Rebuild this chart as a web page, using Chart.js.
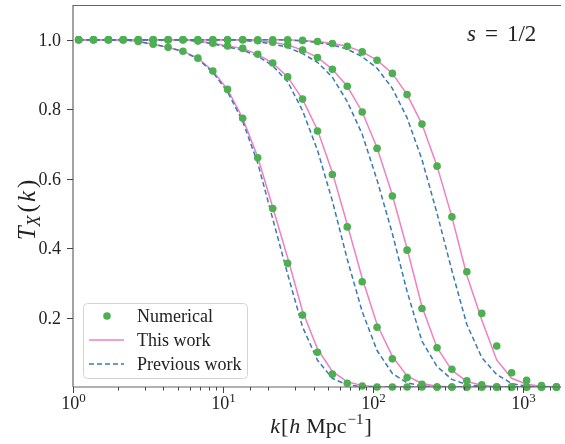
<!DOCTYPE html>
<html>
<head>
<meta charset="utf-8">
<script src="https://cdn.jsdelivr.net/npm/chart.js@4.4.1/dist/chart.umd.min.js"></script>
<style>
html, body { margin: 0; padding: 0; background: #fff; }
#wrap { width: 565px; height: 444px; }
</style>
</head>
<body>
<div id="wrap"><canvas id="chart"></canvas></div>
<script>
// k grid [h/Mpc], shared by the numerical points and both fits
const kValues = [1.09, 1.37, 1.72, 2.16, 2.72, 3.42, 4.30, 5.40, 6.79, 8.54, 10.7, 13.5, 17.0, 21.4, 26.9, 33.8,
  42.5, 53.4, 67.1, 84.4, 106, 134, 168, 211, 266, 334, 420, 528, 664, 835, 1050, 1320, 1660];

// Numerical transfer functions (green dots)
const numA = [1, 1, 1, 1, 0.995, 0.987, 0.978, 0.967, 0.947, 0.910, 0.857, 0.774, 0.660, 0.514, 0.356, 0.207, 0.100,
  0.037, 0.011, 0.003, 0, 0, 0, 0, 0, 0, 0, 0, 0, 0, 0, 0, 0];
const numB = [1, 1, 1, 1, 1, 1, 1, 1, 0.996, 0.990, 0.982, 0.975, 0.958, 0.933, 0.893, 0.829, 0.737, 0.612, 0.461,
  0.303, 0.172, 0.081, 0.027, 0.008, 0, 0, 0, 0, 0, 0, 0, 0, 0];
const numC = [1, 1, 1, 1, 1, 1, 1, 1, 1, 1, 1, 1, 0.997, 0.993, 0.985, 0.970, 0.949, 0.915, 0.866, 0.792, 0.687,
  0.550, 0.394, 0.226, 0.113, 0.051, 0.018, 0.006, 0, 0, 0, 0, 0];
const numD = [1, 1, 1, 1, 1, 1, 1, 1, 1, 1, 1, 1, 1, 1, 1, 0.998, 0.995, 0.989, 0.981, 0.965, 0.941, 0.903, 0.842,
  0.757, 0.636, 0.490, 0.332, 0.212, 0.118, 0.041, 0.019, 0.004, 0];

// This work (pink solid)
const thisA = [1, 1, 1, 1, 0.995, 0.987, 0.978, 0.967, 0.947, 0.910, 0.857, 0.774, 0.662, 0.517, 0.372, 0.218, 0.110,
  0.045, 0.015, 0.004, 0.001, 0, 0, 0, 0, 0, 0, 0, 0, 0, 0, 0, 0];
const thisB = [1, 1, 1, 1, 1, 1, 1, 1, 0.996, 0.990, 0.982, 0.975, 0.958, 0.933, 0.893, 0.829, 0.740, 0.618, 0.468,
  0.313, 0.180, 0.088, 0.032, 0.010, 0.002, 0, 0, 0, 0, 0, 0, 0, 0];
const thisC = [1, 1, 1, 1, 1, 1, 1, 1, 1, 1, 1, 1, 0.997, 0.993, 0.985, 0.970, 0.949, 0.915, 0.866, 0.792, 0.689,
  0.553, 0.398, 0.232, 0.113, 0.048, 0.016, 0.005, 0.001, 0, 0, 0, 0];
const thisD = [1, 1, 1, 1, 1, 1, 1, 1, 1, 1, 1, 1, 1, 1, 1, 0.998, 0.995, 0.989, 0.981, 0.965, 0.941, 0.903, 0.842,
  0.757, 0.636, 0.490, 0.322, 0.193, 0.078, 0.025, 0.008, 0.002, 0];

// Previous work (blue dashed)
const prevA = [1, 1, 1, 1, 0.995, 0.987, 0.978, 0.966, 0.945, 0.906, 0.850, 0.765, 0.645, 0.484, 0.325, 0.173, 0.077,
  0.025, 0.006, 0.001, 0, 0, 0, 0, 0, 0, 0, 0, 0, 0, 0, 0, 0];
const prevB = [1, 1, 1, 1, 1, 1, 1, 1, 0.995, 0.988, 0.979, 0.970, 0.953, 0.925, 0.879, 0.796, 0.682, 0.536, 0.368,
  0.217, 0.105, 0.039, 0.012, 0.003, 0, 0, 0, 0, 0, 0, 0, 0, 0];
const prevC = [1, 1, 1, 1, 1, 1, 1, 1, 1, 1, 1, 0.998, 0.994, 0.988, 0.978, 0.960, 0.935, 0.892, 0.822, 0.728, 0.596,
  0.442, 0.275, 0.132, 0.059, 0.022, 0.007, 0.002, 0, 0, 0, 0, 0];
const prevD = [1, 1, 1, 1, 1, 1, 1, 1, 1, 1, 1, 1, 1, 1, 0.999, 0.997, 0.992, 0.985, 0.973, 0.951, 0.918, 0.860,
  0.775, 0.655, 0.500, 0.335, 0.180, 0.085, 0.036, 0.010, 0.002, 0, 0];

const yTicks = [0.2, 0.4, 0.6, 0.8, 1.0];
const legendLabels = ['Numerical', 'This work', 'Previous work'];

const GREEN = '#4caf50';
const PINK = '#ee80c4';
const BLUE = '#3a7ab3';
const SPINE = '#666';
const SERIF = '"Liberation Serif", "DejaVu Serif", serif';

const toPoints = (vals) => vals.map((v, i) => ({ x: kValues[i], y: v }));

const datasets = [];
[thisA, thisB, thisC, thisD].forEach((s, i) => datasets.push({
  label: i === 0 ? legendLabels[1] : '', data: toPoints(s), borderColor: PINK, borderWidth: 1.5,
  pointRadius: 0, tension: 0, fill: false, order: 2
}));
[prevA, prevB, prevC, prevD].forEach((s, i) => datasets.push({
  label: i === 0 ? legendLabels[2] : '', data: toPoints(s), borderColor: BLUE, borderWidth: 1.5,
  borderDash: [5, 3], pointRadius: 0, tension: 0, fill: false, order: 1
}));
[numA, numB, numC, numD].forEach((s, i) => datasets.push({
  label: i === 0 ? legendLabels[0] : '', data: toPoints(s), showLine: false, pointRadius: 3.8,
  pointBackgroundColor: GREEN, pointBorderWidth: 0, clip: false, order: 0
}));

// draw a run of text pieces with mixed styles
function drawRun(ctx, parts, x, y) {
  let cx = x;
  parts.forEach(p => {
    ctx.font = p.font;
    ctx.fillText(p.t, cx, y + (p.dy || 0));
    cx += ctx.measureText(p.t).width + (p.gap || 0);
  });
  return cx - x;
}
function runWidth(ctx, parts) {
  let w = 0;
  parts.forEach(p => { ctx.font = p.font; w += ctx.measureText(p.t).width + (p.gap || 0); });
  return w;
}

const decor = {
  id: 'decor',
  afterDraw(chart) {
    const { ctx, chartArea: a, scales: { x, y } } = chart;
    ctx.save();
    ctx.strokeStyle = SPINE;
    ctx.lineWidth = 1.2;
    // spines
    ctx.beginPath();
    ctx.moveTo(a.left, a.top + 0.5); ctx.lineTo(a.right, a.top + 0.5);
    ctx.moveTo(a.left, a.top); ctx.lineTo(a.left, a.bottom);
    ctx.moveTo(a.left, a.bottom); ctx.lineTo(a.right, a.bottom);
    ctx.stroke();

    ctx.fillStyle = '#222';
    ctx.strokeStyle = '#444';
    ctx.lineWidth = 1;
    // x ticks (log, minor + major)
    x.ticks.forEach(t => {
      if (t.value >= x.max) return;
      const px = Math.round(x.getPixelForValue(t.value)) + 0.5;
      const lg = Math.log10(t.value);
      const major = Math.abs(lg - Math.round(lg)) < 1e-9;
      ctx.beginPath();
      ctx.moveTo(px, a.bottom); ctx.lineTo(px, a.bottom + (major ? 6 : 3.5));
      ctx.stroke();
      if (major) {
        const parts = [
          { t: '10', font: '18px ' + SERIF },
          { t: String(Math.round(lg)), font: '13px ' + SERIF, dy: -7 }
        ];
        ctx.textBaseline = 'alphabetic';
        ctx.textAlign = 'left';
        const w = runWidth(ctx, parts);
        drawRun(ctx, parts, px - w / 2, a.bottom + 22);
      }
    });
    // y ticks
    ctx.textAlign = 'right';
    ctx.textBaseline = 'middle';
    ctx.font = '18px ' + SERIF;
    yTicks.forEach(v => {
      const py = Math.round(y.getPixelForValue(v)) + 0.5;
      ctx.beginPath();
      ctx.moveTo(a.left - 6, py); ctx.lineTo(a.left, py);
      ctx.stroke();
      ctx.fillText(v.toFixed(1), a.left - 12, py + 1);
    });

    // axis titles
    ctx.textAlign = 'left';
    ctx.textBaseline = 'alphabetic';
    const xl = [
      { t: 'k', font: 'italic 22px ' + SERIF, gap: 1 },
      { t: '[', font: '22px ' + SERIF, gap: 1 },
      { t: 'h', font: 'italic 22px ' + SERIF, gap: 6 },
      { t: 'Mpc', font: '22px ' + SERIF, gap: 1 },
      { t: '\u22121', font: '15px ' + SERIF, dy: -9, gap: 1 },
      { t: ']', font: '22px ' + SERIF }
    ];
    const xw = runWidth(ctx, xl);
    drawRun(ctx, xl, (a.left + a.right) / 2 + 4 - xw / 2, 433);

    const yl = [
      { t: 'T', font: 'italic 25px ' + SERIF, gap: 0 },
      { t: 'X', font: 'italic 18px ' + SERIF, dy: 5, gap: 3 },
      { t: '(', font: '25px ' + SERIF, gap: 2 },
      { t: 'k', font: 'italic 25px ' + SERIF, gap: 3 },
      { t: ')', font: '25px ' + SERIF }
    ];
    ctx.save();
    ctx.translate(35, 210);
    ctx.rotate(-Math.PI / 2);
    const yw = runWidth(ctx, yl);
    drawRun(ctx, yl, -yw / 2, 0);
    ctx.restore();

    // annotation
    drawRun(ctx, [
      { t: 's', font: 'italic 23px ' + SERIF, gap: 9 },
      { t: '=', font: '23px ' + SERIF, gap: 9 },
      { t: '1/2', font: '23px ' + SERIF }
    ], 467, 41);

    // legend
    const lx = 83, ly = 303, lw = 164, lh = 75;
    ctx.beginPath();
    ctx.roundRect(lx + 0.5, ly + 0.5, lw, lh, 4);
    ctx.fillStyle = 'rgba(255,255,255,0.85)';
    ctx.fill();
    ctx.strokeStyle = '#d4d4d4';
    ctx.lineWidth = 1;
    ctx.stroke();
    const rows = [316, 340, 364];
    ctx.fillStyle = GREEN;
    ctx.beginPath(); ctx.arc(107, rows[0], 3.8, 0, Math.PI * 2); ctx.fill();
    ctx.lineWidth = 1.5;
    ctx.strokeStyle = PINK;
    ctx.beginPath(); ctx.moveTo(89, rows[1]); ctx.lineTo(124, rows[1]); ctx.stroke();
    ctx.strokeStyle = BLUE;
    ctx.setLineDash([5, 3]);
    ctx.beginPath(); ctx.moveTo(89, rows[2]); ctx.lineTo(124, rows[2]); ctx.stroke();
    ctx.setLineDash([]);
    ctx.fillStyle = '#222';
    ctx.font = '18px ' + SERIF;
    ctx.textBaseline = 'middle';
    legendLabels.forEach((lab, i) => ctx.fillText(lab, 137, rows[i] + 1));
    ctx.restore();
  }
};

new Chart(document.getElementById('chart'), {
  type: 'line',
  data: { datasets: datasets },
  options: {
    responsive: true,
    maintainAspectRatio: false,
    animation: false,
    layout: { padding: { top: 5, left: 0, right: 0, bottom: 0 } },
    plugins: { legend: { display: false }, tooltip: { enabled: false } },
    scales: {
      x: {
        type: 'logarithmic',
        min: 1,
        max: 1780,
        grid: { display: false },
        border: { display: false },
        ticks: { display: false, autoSkip: false },
        afterFit: (s) => { s.height = 57; }
      },
      y: {
        type: 'linear',
        min: 0,
        max: 1.1,
        grid: { display: false },
        border: { display: false },
        ticks: { display: false, stepSize: 0.2 },
        afterFit: (s) => { s.width = 73; }
      }
    }
  },
  plugins: [decor]
});
</script>
</body>
</html>
